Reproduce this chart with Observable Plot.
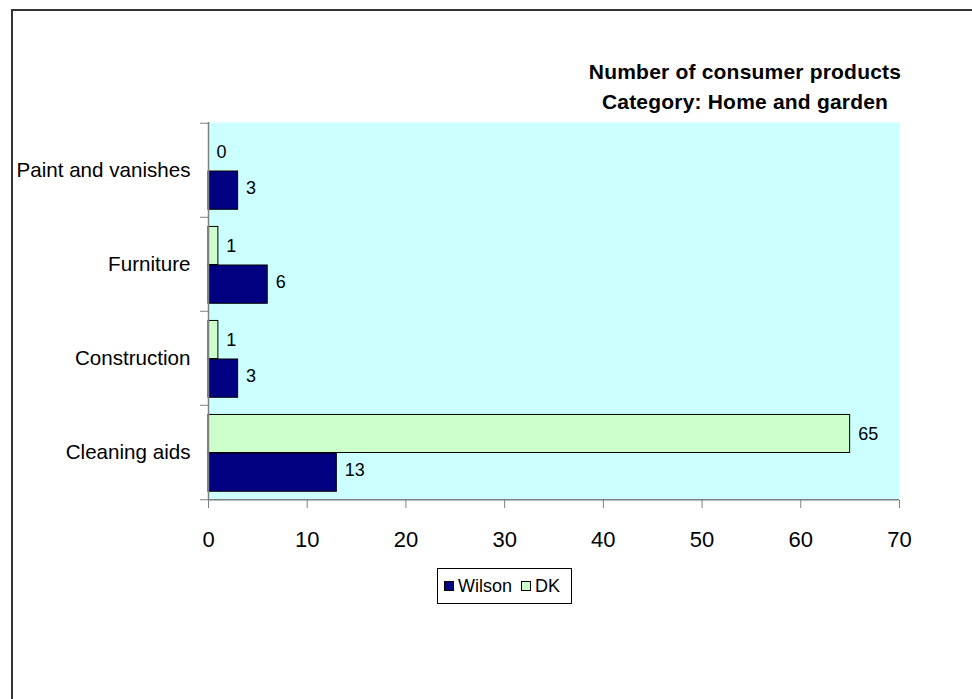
<!DOCTYPE html>
<html><head><meta charset="utf-8">
<script src="https://cdn.jsdelivr.net/npm/d3@7"></script>
<script src="https://cdn.jsdelivr.net/npm/@observablehq/plot@0.6"></script>
<style>
body{margin:0;background:#fff;font-family:"Liberation Sans",Arial,sans-serif;}
#wrap{position:relative;width:972px;height:699px;overflow:hidden;background:#fff;}
#chart{position:absolute;left:0;top:0;}
#border{position:absolute;left:11px;top:9px;width:1000px;height:800px;border:2px solid #333;box-sizing:border-box;}
#title{position:absolute;left:545px;width:400px;top:57px;text-align:center;font-weight:bold;font-size:21px;letter-spacing:0.2px;line-height:30px;color:#000;}
#legend{position:absolute;left:437px;top:568px;width:135px;height:36px;box-sizing:border-box;border:1px solid #000;background:#fff;display:flex;align-items:center;padding-left:6px;font-size:18px;color:#000;}
#legend .sw{display:inline-block;width:10px;height:10px;border:1px solid #000;box-sizing:border-box;margin-right:4px;}
#legend .it{display:flex;align-items:center;margin-right:9px;}
</style></head>
<body>
<div id="wrap">
<div id="border"></div>
<div id="chart"></div>
<div id="title">Number of consumer products<br>Category: Home and garden</div>
<div id="legend"></div>
</div>
<script>
const categories = ["Paint and vanishes", "Furniture", "Construction", "Cleaning aids"];
const seriesNames = ["Wilson", "DK"];
const wilson = [3, 6, 3, 13];
const dk = [0, 1, 1, 65];
const xTicks = [0, 10, 20, 30, 40, 50, 60, 70];
const colors = {Wilson: "#000080", DK: "#CCFFCC"};

const W = 972, H = 699, mt = 122, mb = 199, ml = 208, mr = 73;
const bw = (H - mt - mb) / categories.length;
const gray = "#808080";

const dkRows = categories.map((c, i) => ({category: c, series: "DK", value: dk[i]}));
const wRows = categories.map((c, i) => ({category: c, series: "Wilson", value: wilson[i]}));

const top0 = 0.10, mid = 0.508, bot = 0.918;

const plot = Plot.plot({
  width: W, height: H,
  marginTop: mt, marginBottom: mb, marginLeft: ml, marginRight: mr,
  style: {fontFamily: '"Liberation Sans", Arial, sans-serif', color: "black", background: "transparent"},
  x: {domain: [0, 70], axis: null},
  y: {domain: categories, paddingInner: 0, paddingOuter: 0, axis: null},
  marks: [
    Plot.frame({fill: "#CCFFFF", stroke: null}),
    Plot.barX(dkRows.filter(d => d.value > 0), {x: "value", y: "category", fill: colors.DK, stroke: "black", strokeWidth: 1,
      insetTop: bw * top0, insetBottom: bw * (1 - mid)}),
    Plot.barX(wRows.filter(d => d.value > 0), {x: "value", y: "category", fill: colors.Wilson, stroke: "black", strokeWidth: 1,
      insetTop: bw * mid, insetBottom: bw * (1 - bot)}),
    Plot.text(dkRows, {x: "value", y: "category", text: d => String(d.value), textAnchor: "start", dx: 8,
      dy: bw * ((top0 + mid) / 2 - 0.5), fontSize: 18, fill: "black"}),
    Plot.text(wRows, {x: "value", y: "category", text: d => String(d.value), textAnchor: "start", dx: 8,
      dy: bw * ((mid + bot) / 2 - 0.5) - 2, fontSize: 18, fill: "black"}),
    Plot.ruleX([0], {stroke: gray, strokeWidth: 1.5}),
    Plot.ruleY([categories[categories.length - 1]], {x1: 0, x2: 70, dy: bw / 2, stroke: gray, strokeWidth: 1.5}),
    Plot.axisY(categories, {tickSize: 8, tickFormat: () => "", label: null, dy: -bw / 2, stroke: gray, strokeWidth: 1}),
    Plot.axisY([categories[categories.length - 1]], {tickSize: 8, tickFormat: () => "", label: null, dy: bw / 2, stroke: gray, strokeWidth: 1}),
    Plot.axisY({tickSize: 0, tickPadding: 18, fontSize: 20.6, label: null, fill: "black"}),
    Plot.axisX({ticks: xTicks, tickSize: 8, tickPadding: 23, fontSize: 22, label: null, stroke: gray, fill: "black", tickFormat: d => String(d)})
  ]
});
document.getElementById("chart").appendChild(plot);

const leg = document.getElementById("legend");
seriesNames.forEach(s => {
  const it = document.createElement("span");
  it.className = "it";
  const sw = document.createElement("span");
  sw.className = "sw";
  sw.style.background = colors[s];
  it.appendChild(sw);
  it.appendChild(document.createTextNode(s));
  leg.appendChild(it);
});
</script>
</body></html>
